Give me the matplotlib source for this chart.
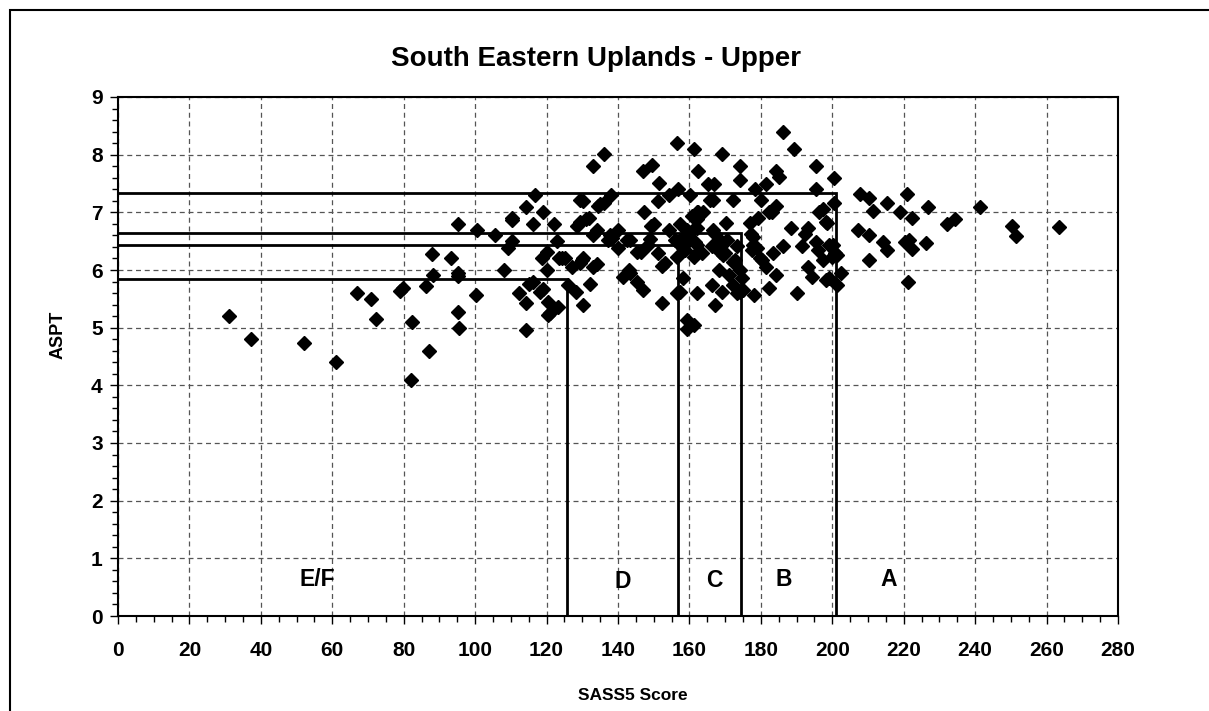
import matplotlib
matplotlib.use("Agg")
import matplotlib.pyplot as plt
from matplotlib.patches import Rectangle
from matplotlib.ticker import MultipleLocator

plt.rcParams['font.family'] = ['Liberation Sans', 'DejaVu Sans']

title = "South Eastern Uplands - Upper"
x_label = "SASS5 Score"
y_label = "ASPT"

sass_scores = [
    31.1, 37.2, 52.1, 61, 67, 70.8, 72.2, 79, 79.7, 82.2, 82, 86.2, 87, 88, 88.3, 93.2,
    95.1, 95.1, 95.3, 95.1, 95.5, 100.4, 100.2, 105.6, 108.1, 110.3, 110.2, 110.2, 109.3,
    112.3, 114.2, 114.2, 114.2, 115.1, 116.3, 116.8, 116.2, 118.8, 118.2, 119.1, 119.1,
    120, 120.2, 120.3, 120.3, 121, 122.2, 122.8, 123.5, 123.1, 124.2, 125.2, 126.1, 127.2,
    128.4, 128.2, 129.4, 129.4, 130.3, 129.4, 129.9, 130.3, 130.1, 131, 132, 132.2,
    133.1, 133.1, 134, 133.1, 134, 134.5, 136.1, 134.9, 136.1, 137.8, 137.3, 138.1, 138.2, 140.1,
    140.1, 141.3, 142.4, 143.4, 143.1, 143.4, 145.2, 146.4, 145.2, 147.1, 147.3, 147.1,
    149.6, 149.2, 150.1, 149, 148.5, 151.6, 151.3, 151.3, 152.2, 153.2, 152.2, 154.3,
    154.3, 156.7, 156.6, 156, 157.2, 156.4, 158.8, 156.4, 157.4, 157.4, 159.2, 159.7,
    159.2, 159.2, 161.3, 158.3, 159.2, 158.3, 158.3, 160.2, 160.6, 161.1, 161.3, 161.6,
    161.3, 162, 162, 162, 162, 162, 162, 162.5, 162.5, 163.4, 163.9, 165.3, 166.9, 165.8,
    166.7, 166.7, 167.2, 166.2, 167.6, 168.6, 169.5, 166.2, 167.2, 168.4, 169, 169, 170.4,
    170.2, 170, 169.2, 171.2, 172.3, 172.3, 172.8, 172.3, 173.2, 173.2, 174.2, 174.2,
    174.2, 174.6, 174.2, 175.1, 177, 177.2, 177.9, 177.4, 177.9, 178.8, 178.2, 178.4,
    179.3, 179.8, 180.2, 180, 181.3, 181.4, 182.3, 183, 184.2, 182.3, 183.3, 184.2, 184.2,
    185.2, 186.3, 186.3, 188.3, 189.4, 190.2, 191.4, 192.4, 193.1, 193.3, 194.4, 195.4,
    195.4, 195.4, 196.1, 196.4, 197.3, 197.3, 198.2, 198.4, 198.2, 199.2, 199.2, 200.1,
    200.8, 201.2, 199.8, 200.6, 200.6, 201.2, 202.3, 207.8, 207.3, 210.3, 210.3, 210.3,
    211.3, 214.3, 215.4, 215.4, 219, 220.4, 221.5, 221, 221.3, 222.2, 222.2, 226.2, 226.9,
    232.2, 234.4, 241.4, 250.2, 251.4, 263.4,
]
aspt_values = [
    5.2, 4.8, 4.73, 4.4, 5.6, 5.5, 5.15, 5.64, 5.68, 5.1, 4.1, 5.73, 4.6, 6.28, 5.91, 6.2,
    6.79, 5.94, 5.9, 5.28, 5.0, 6.7, 5.57, 6.6, 6.0, 6.9, 6.87, 6.5, 6.39,
    5.6, 7.1, 5.43, 4.96, 5.75, 5.8, 7.3, 6.79, 6.2, 5.62, 5.67, 7.0,
    6.32, 6.0, 5.45, 5.22, 5.26, 6.8, 6.5, 6.2, 5.36, 6.21, 6.21, 5.74, 6.06,
    6.76, 5.61, 6.84, 7.21, 7.2, 6.12, 6.17, 6.21, 5.4, 6.89, 6.91, 5.75,
    7.8, 6.61, 6.69, 6.06, 6.1, 7.11, 7.17, 7.14, 8.01, 6.61, 6.52, 7.3, 6.55, 6.7,
    6.38, 5.88, 6.52, 6.52, 6.0, 5.94, 6.31, 6.31, 5.8, 7.71, 7.0, 5.65,
    7.82, 6.76, 6.8, 6.54, 6.43, 7.51, 7.2, 6.29, 6.07, 6.13, 5.43, 7.3,
    6.7, 7.4, 8.21, 6.52, 6.45, 6.23, 6.35, 5.6, 5.62, 6.8, 6.69, 6.61,
    5.13, 4.97, 5.05, 6.58, 6.49, 6.38, 5.86, 7.3, 6.93, 6.69, 8.09, 6.49,
    6.23, 7.01, 6.88, 6.72, 6.43, 6.29, 5.6, 7.71, 7.01, 6.29, 7.01, 7.5, 7.5, 7.21,
    7.21, 6.69, 6.63, 6.41, 6.43, 6.32, 6.26, 5.74, 5.4, 6.0, 8.01, 6.49, 6.52,
    6.81, 6.29, 5.62, 5.91, 7.21, 6.14, 6.17, 5.74, 6.41, 5.6, 7.8, 7.56,
    6.0, 5.86, 5.62, 5.65, 6.81, 6.63, 6.58, 6.35, 6.43, 6.38, 5.57, 7.4,
    6.91, 6.2, 6.17, 7.21, 7.5, 6.06, 7.0, 7.01, 7.11, 5.69, 6.3, 5.91, 7.71,
    7.62, 8.4, 6.41, 6.72, 8.09, 5.6, 6.41, 6.63, 6.72, 6.06, 5.88, 7.8,
    7.4, 6.49, 6.35, 7.01, 7.05, 6.17, 6.84, 6.81, 5.83, 5.86, 6.43, 6.43,
    6.29, 6.26, 6.23, 7.59, 7.16, 5.74, 5.94, 7.31, 6.7, 7.24, 6.6, 6.18,
    7.03, 6.49, 7.17, 6.34, 7.0, 6.49, 6.52, 7.31, 5.8, 6.9, 6.36, 6.46, 7.1,
    6.8, 6.88, 7.09, 6.76, 6.59, 6.74,
]

# Band boundaries (SASS5 score, ASPT) for D, C, B, A
boundary_sass = [125.7, 156.8, 174.5, 201.0]
boundary_aspt = [5.84, 6.43, 6.64, 7.33]

band_labels = ["E/F", "D", "C", "B", "A"]
band_label_x = [55.7, 141.4, 166.9, 186.5, 215.9]
band_label_y = [0.64, 0.59, 0.62, 0.64, 0.64]

x_ticks = list(range(0, 281, 20))
y_ticks = list(range(0, 10))

fig = plt.figure(figsize=(12.09, 7.11), dpi=100)
ax = fig.add_axes([118/1209, 1 - 616/711, 1000/1209, 519/711])

ax.set_xlim(0, 280)
ax.set_ylim(0, 9)
ax.set_xticks(x_ticks)
ax.set_yticks(y_ticks)
ax.xaxis.set_minor_locator(MultipleLocator(5))
ax.yaxis.set_minor_locator(MultipleLocator(0.2))
ax.grid(True, which='major', linestyle=(0, (4, 3)), color='#555555', linewidth=0.9)
ax.set_axisbelow(True)

for xb, yb in zip(boundary_sass, boundary_aspt):
    ax.plot([0, xb, xb], [yb, yb, 0], color='black', linewidth=2.0, zorder=3,
            solid_joinstyle='miter')

ax.plot(sass_scores, aspt_values, linestyle='none', marker='D', markersize=7,
        color='black', zorder=4)

for lab, lx, ly in zip(band_labels, band_label_x, band_label_y):
    ax.text(lx, ly, lab, ha='center', va='center', fontsize=16.5, fontweight='bold', zorder=5)

for sp in ax.spines.values():
    sp.set_linewidth(1.5)
    sp.set_color('black')

ax.tick_params(axis='both', which='major', direction='out', length=6, width=1,
               labelsize=15, pad=12)
ax.tick_params(axis='y', which='major', pad=5)
ax.tick_params(axis='both', which='minor', direction='out', length=4, width=1)
for lbl in ax.get_xticklabels() + ax.get_yticklabels():
    lbl.set_fontweight('bold')

fig.text(596/1209, 1 - 59/711, title, ha='center', va='center', fontsize=20,
         fontweight='bold')
fig.text(633/1209, 1 - 695/711, x_label, ha='center', va='center', fontsize=12.5,
         fontweight='bold')
fig.text(58/1209, 1 - 335/711, y_label, ha='center', va='center', fontsize=13,
         fontweight='bold', rotation=90)

frame = Rectangle((10/1209, -0.2), 1.2, 1 - 10/711 + 0.2, transform=fig.transFigure,
                  fill=False, edgecolor='black', linewidth=1.5, clip_on=False)
fig.patches.append(frame)

fig.savefig("out.png", dpi=100)
